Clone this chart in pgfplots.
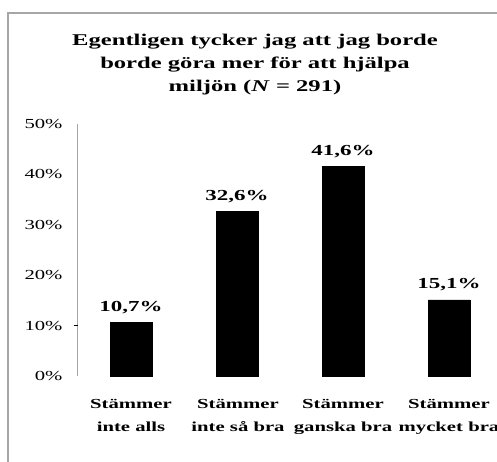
\documentclass[border=0pt]{standalone}
\usepackage{fontspec}
\setmainfont{Liberation Serif}[FakeStretch=1.5]
\usepackage{pgfplots}
\pgfplotsset{compat=1.18}

\begin{document}
\begin{tikzpicture}
\path[use as bounding box] (-78pt,-86pt) rectangle (419pt,376pt);
\draw[gray!70, line width=1.2pt] (-70pt,-120pt) rectangle (450pt,363pt);
\begin{axis}[
  at={(0pt,0pt)}, anchor=south west,
  scale only axis,
  width=424pt, height=252pt,
  xmin=-0.5, xmax=3.5,
  ymin=0, ymax=50,
  axis lines*=left,
  axis x line=none,
  y axis line style={gray!70, line width=1pt},
  ytick={0,10,20,30,40,50},
  yticklabel={\pgfmathprintnumber{\tick}\%},
  /pgf/number format/assume math mode=true,
  major tick length=0pt,
  yticklabel style={font=\fontsize{13.8}{15}\selectfont, xshift=-12pt},
  extra y ticks={10},
  extra y tick labels={},
  extra y tick style={major tick length=4pt, tick style={black, line width=1pt}, tick align=outside},
  ybar, bar width=42pt,
  nodes near coords={\pgfmathprintnumber[fixed, fixed zerofill, precision=1, use comma, assume math mode=true]{\pgfplotspointmeta}\%},
  every node near coord/.append style={font=\bfseries\fontsize{15.3}{17}\selectfont, yshift=5pt},
  clip=false,
  title={Egentligen tycker jag att jag borde\\borde göra mer för att hjälpa\\miljön (\textit{N} = 291)},
  title style={font=\bfseries\fontsize{16.4}{23}\selectfont, align=center, at={(177pt,305pt)}, anchor=center},
]
\addplot[fill=black, draw=black] coordinates {(0,10.7) (1,32.6) (2,41.6) (3,15.1)};
\end{axis}
% category labels
\foreach \x/\a/\b in {53/Stämmer/inte alls, 160/Stämmer/inte så bra, 265/Stämmer/ganska bra, 371/Stämmer/mycket bra}
  \node[font=\bfseries\fontsize{13.8}{23}\selectfont, align=center, anchor=north] at (\x pt,-20pt) {\a\\\b};
\end{tikzpicture}
\end{document}
